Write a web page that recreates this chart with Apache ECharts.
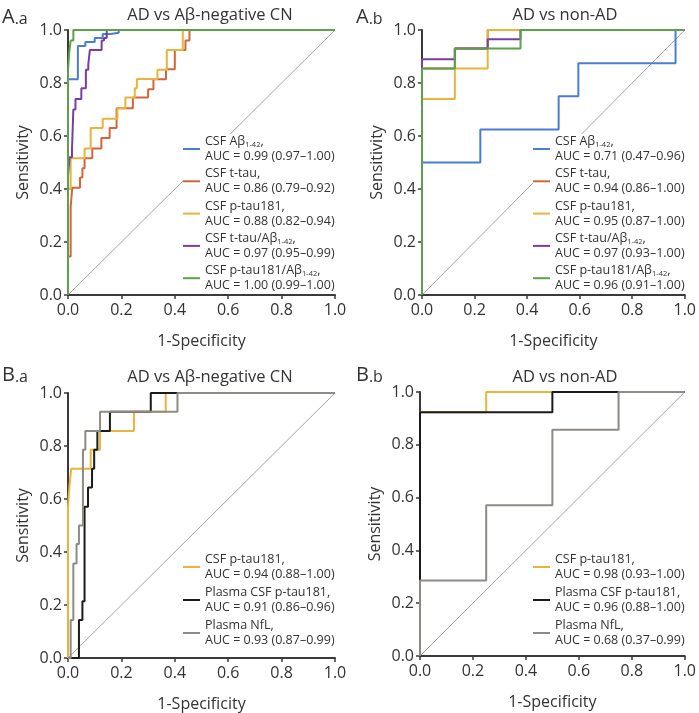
<!DOCTYPE html>
<html>
<head>
<meta charset="utf-8">
<script src="https://cdn.jsdelivr.net/npm/echarts@6/dist/echarts.min.js"></script>
<style>
html,body{margin:0;padding:0;background:#fff;}
#chart{width:699px;height:713px;}
</style>
</head>
<body>
<div id="chart"></div>
<script>
// ---------- Data (x = 1-Specificity, y = Sensitivity) ----------
const tickLabels = ['0.0', '0.2', '0.4', '0.6', '0.8', '1.0'];
const diagonal = [[0, 0], [1, 1]];

// Panel A.a : AD vs Aβ-negative CN
const aaAbeta = [[0,0],[0,0.814],[0.037,0.814],[0.037,0.94],[0.065,0.94],[0.065,0.955],[0.1,0.955],[0.1,0.97],[0.13,0.97],[0.13,0.985],[0.16,0.985],[0.16,0.99],[0.19,0.99],[0.19,1],[1,1]];
const aaTtau = [[0,0],[0,0.145],[0.01,0.145],[0.01,0.333],[0.016,0.333],[0.016,0.405],[0.045,0.405],[0.045,0.443],[0.054,0.443],[0.054,0.478],[0.062,0.478],[0.062,0.516],[0.091,0.516],[0.091,0.553],[0.125,0.553],[0.125,0.592],[0.156,0.592],[0.156,0.63],[0.182,0.63],[0.182,0.705],[0.243,0.705],[0.243,0.745],[0.30,0.745],[0.30,0.776],[0.32,0.776],[0.32,0.814],[0.367,0.814],[0.367,0.852],[0.40,0.852],[0.40,0.925],[0.44,0.925],[0.44,0.96],[0.455,0.96],[0.455,1],[1,1]];
const aaPtau = [[0,0],[0,0.40],[0.01,0.40],[0.01,0.516],[0.062,0.516],[0.062,0.553],[0.085,0.553],[0.085,0.63],[0.13,0.63],[0.13,0.665],[0.185,0.665],[0.185,0.705],[0.215,0.705],[0.215,0.745],[0.25,0.745],[0.25,0.78],[0.258,0.78],[0.258,0.815],[0.335,0.815],[0.335,0.85],[0.37,0.85],[0.37,0.925],[0.43,0.925],[0.43,1],[1,1]];
const aaTtauRatio = [[0,0],[0,0.45],[0.006,0.45],[0.006,0.52],[0.015,0.52],[0.015,0.55],[0.02,0.55],[0.02,0.70],[0.028,0.70],[0.028,0.74],[0.05,0.74],[0.05,0.78],[0.067,0.78],[0.067,0.85],[0.076,0.85],[0.076,0.87],[0.082,0.87],[0.082,0.925],[0.126,0.925],[0.126,0.96],[0.135,0.96],[0.135,0.97],[0.145,0.97],[0.145,1],[1,1]];
const aaPtauRatio = [[0,0],[0,0.85],[0.005,0.85],[0.005,0.92],[0.01,0.92],[0.01,0.96],[0.02,0.96],[0.02,1],[1,1]];

// Panel A.b : AD vs non-AD
const abAbeta = [[0,0],[0,0.5],[0.222,0.5],[0.222,0.625],[0.52,0.625],[0.52,0.75],[0.595,0.75],[0.595,0.875],[0.965,0.875],[0.965,1],[1,1]];
const abTtau = [[0,0],[0,0.855],[0.125,0.855],[0.125,0.93],[0.25,0.93],[0.25,1],[1,1]];
const abPtau = [[0,0],[0,0.74],[0.125,0.74],[0.125,0.855],[0.25,0.855],[0.25,1],[1,1]];
const abTtauRatio = [[0,0],[0,0.89],[0.125,0.89],[0.125,0.93],[0.25,0.93],[0.25,0.965],[0.375,0.965],[0.375,1],[1,1]];
const abPtauRatio = [[0,0],[0,0.855],[0.125,0.855],[0.125,0.93],[0.375,0.93],[0.375,1],[1,1]];

// Panel B.a : AD vs Aβ-negative CN
const baCsfPtau = [[0,0],[0,0.57],[0.005,0.57],[0.005,0.645],[0.012,0.645],[0.012,0.714],[0.085,0.714],[0.085,0.786],[0.12,0.786],[0.12,0.857],[0.247,0.857],[0.247,0.929],[0.366,0.929],[0.366,1],[1,1]];
const baPlasmaPtau = [[0,0],[0.041,0],[0.041,0.143],[0.054,0.143],[0.054,0.214],[0.062,0.214],[0.062,0.571],[0.075,0.571],[0.075,0.643],[0.09,0.643],[0.09,0.714],[0.098,0.714],[0.098,0.786],[0.11,0.786],[0.11,0.857],[0.157,0.857],[0.157,0.929],[0.31,0.929],[0.31,1],[1,1]];
const baNfl = [[0,0],[0.01,0],[0.01,0.143],[0.02,0.143],[0.02,0.357],[0.032,0.357],[0.032,0.43],[0.041,0.43],[0.041,0.5],[0.056,0.5],[0.056,0.786],[0.065,0.786],[0.065,0.857],[0.12,0.857],[0.12,0.929],[0.41,0.929],[0.41,1],[1,1]];

// Panel B.b : AD vs non-AD
const bbCsfPtau = [[0,0],[0,0.923],[0.25,0.923],[0.25,1],[1,1]];
const bbPlasmaPtau = [[0,0],[0,0.923],[0.5,0.923],[0.5,1],[1,1]];
const bbNfl = [[0,0],[0,0.286],[0.25,0.286],[0.25,0.571],[0.5,0.571],[0.5,0.857],[0.75,0.857],[0.75,1],[1,1]];

// Legend texts
const legendText = {
  aa1: ['CSF Aβ', '1-42', 'AUC = 0.99 (0.97–1.00)'],
  aa2: ['CSF t-tau,', null, 'AUC = 0.86 (0.79–0.92)'],
  aa3: ['CSF p-tau181,', null, 'AUC = 0.88 (0.82–0.94)'],
  aa4: ['CSF t-tau/Aβ', '1-42', 'AUC = 0.97 (0.95–0.99)'],
  aa5: ['CSF p-tau181/Aβ', '1-42', 'AUC = 1.00 (0.99–1.00)'],
  ab1: ['CSF Aβ', '1-42', 'AUC = 0.71 (0.47–0.96)'],
  ab2: ['CSF t-tau,', null, 'AUC = 0.94 (0.86–1.00)'],
  ab3: ['CSF p-tau181,', null, 'AUC = 0.95 (0.87–1.00)'],
  ab4: ['CSF t-tau/Aβ', '1-42', 'AUC = 0.97 (0.93–1.00)'],
  ab5: ['CSF p-tau181/Aβ', '1-42', 'AUC = 0.96 (0.91–1.00)'],
  ba1: ['CSF p-tau181,', null, 'AUC = 0.94 (0.88–1.00)'],
  ba2: ['Plasma CSF p-tau181,', null, 'AUC = 0.91 (0.86–0.96)'],
  ba3: ['Plasma NfL,', null, 'AUC = 0.93 (0.87–0.99)'],
  bb1: ['CSF p-tau181,', null, 'AUC = 0.98 (0.93–1.00)'],
  bb2: ['Plasma CSF p-tau181,', null, 'AUC = 0.96 (0.88–1.00)'],
  bb3: ['Plasma NfL,', null, 'AUC = 0.68 (0.37–0.99)']
};

// ---------- Styling ----------
const FONT = 'Open Sans';
const C = {
  blue: '#4a7dd3', orange: '#d2663b', yellow: '#e8b43c', purple: '#7a3da6',
  green: '#5ca249', black: '#1b1b1b', gray: '#8e8a85', axis: '#3a3a3a', text: '#333333'
};

const grids = [
  {left: 68, top: 30, width: 267, height: 265},
  {left: 422, top: 30, width: 266, height: 265},
  {left: 68, top: 393, width: 267, height: 266},
  {left: 420, top: 392, width: 266, height: 264}
];

function axisBase(i) {
  return {
    gridIndex: i, type: 'value', min: 0, max: 1, interval: 0.2,
    axisLine: {show: true, lineStyle: {color: C.axis, width: 2}},
    axisTick: {show: true, length: 4, lineStyle: {color: C.axis, width: 1.5}},
    axisLabel: {formatter: v => tickLabels[Math.round(v * 5)], fontSize: 16, color: C.text, fontFamily: FONT},
    splitLine: {show: false},
    nameLocation: 'middle',
    nameTextStyle: {fontSize: 16, color: C.text, fontFamily: FONT}
  };
}
const xAxes = [0,1,2,3].map(i => Object.assign(axisBase(i), {name: '1-Specificity', nameGap: 38,
  axisLabel: Object.assign(axisBase(i).axisLabel, {margin: 7})}));
const yAxes = [0,1,2,3].map(i => Object.assign(axisBase(i), {name: 'Sensitivity', nameGap: 37,
  axisLabel: Object.assign(axisBase(i).axisLabel, {margin: 6})}));

const series = [];
function addDiag(i) {
  series.push({type: 'line', xAxisIndex: i, yAxisIndex: i, data: diagonal, symbol: 'none', silent: true,
    lineStyle: {color: '#8a8a8a', width: 0.8}, z: 1, animation: false});
}
function addCurve(i, key, data, color) {
  series.push({type: 'line', name: key, xAxisIndex: i, yAxisIndex: i, data: data, symbol: 'none',
    clip: false, animation: false, color: color,
    lineStyle: {color: color, width: 2}, itemStyle: {color: color}});
}
[0,1,2,3].forEach(addDiag);
addCurve(0, 'aa1', aaAbeta, C.blue);
addCurve(0, 'aa2', aaTtau, C.orange);
addCurve(0, 'aa3', aaPtau, C.yellow);
addCurve(0, 'aa4', aaTtauRatio, C.purple);
addCurve(0, 'aa5', aaPtauRatio, C.green);
addCurve(1, 'ab1', abAbeta, C.blue);
addCurve(1, 'ab2', abTtau, C.orange);
addCurve(1, 'ab3', abPtau, C.yellow);
addCurve(1, 'ab4', abTtauRatio, C.purple);
addCurve(1, 'ab5', abPtauRatio, C.green);
addCurve(2, 'ba1', baCsfPtau, C.yellow);
addCurve(2, 'ba2', baPlasmaPtau, C.black);
addCurve(2, 'ba3', baNfl, C.gray);
addCurve(3, 'bb1', bbCsfPtau, C.yellow);
addCurve(3, 'bb2', bbPlasmaPtau, C.black);
addCurve(3, 'bb3', bbNfl, C.gray);

function legendFmt(name) {
  const t = legendText[name];
  let first = '{t|' + t[0] + '}';
  if (t[1]) first += '{s|' + t[1] + '}{t|,}';
  return first + '\n{t|' + t[2] + '}';
}
function makeLegend(keys, left, top, gap) {
  return {
    data: keys, left: left, top: top, orient: 'vertical', padding: 0, itemGap: gap,
    backgroundColor: '#ffffff', z: 5,
    icon: 'rect', itemWidth: 17, itemHeight: 2, selectedMode: false, formatter: legendFmt,
    textStyle: {fontFamily: FONT, fontSize: 12.5, color: C.text, lineHeight: 15,
      rich: {
        t: {fontFamily: FONT, fontSize: 12.5, color: C.text, lineHeight: 15},
        s: {fontFamily: FONT, fontSize: 7.5, color: C.text, lineHeight: 9, verticalAlign: 'bottom'}
      }}
  };
}

const titleStyle = {font: '16.5px "Open Sans"', fill: C.text, align: 'center', verticalAlign: 'middle'};
function panelLabel(x, y, big, small) {
  return {type: 'text', x: x, y: y, style: {
    text: '{a|' + big + '}{b|' + small + '}', verticalAlign: 'middle', fill: C.text,
    rich: {a: {fontFamily: FONT, fontSize: 20, fill: C.text, verticalAlign: 'bottom', lineHeight: 24},
           b: {fontFamily: FONT, fontSize: 16, fill: C.text, verticalAlign: 'bottom', lineHeight: 21}}
  }};
}

const option = {
  backgroundColor: '#ffffff',
  animation: false,
  textStyle: {fontFamily: FONT},
  grid: grids,
  xAxis: xAxes,
  yAxis: yAxes,
  series: series,
  legend: [
    makeLegend(['aa1','aa2','aa3','aa4','aa5'], 183, 134, 2.3),
    makeLegend(['ab1','ab2','ab3','ab4','ab5'], 533, 134, 2.3),
    makeLegend(['ba1','ba2','ba3'], 183, 552, 3),
    makeLegend(['bb1','bb2','bb3'], 533, 552, 3)
  ],
  graphic: [
    {type: 'text', x: 210, y: 15, style: Object.assign({text: 'AD vs Aβ-negative CN'}, titleStyle)},
    {type: 'text', x: 565, y: 15, style: Object.assign({text: 'AD vs non-AD'}, titleStyle)},
    {type: 'text', x: 210, y: 377, style: Object.assign({text: 'AD vs Aβ-negative CN'}, titleStyle)},
    {type: 'text', x: 565, y: 377, style: Object.assign({text: 'AD vs non-AD'}, titleStyle)},
    panelLabel(2, 15, 'A', '.a'),
    panelLabel(356, 15, 'A', '.b'),
    panelLabel(2, 373, 'B', '.a'),
    panelLabel(356, 373, 'B', '.b')
  ]
};

const chart = echarts.init(document.getElementById('chart'), null, {renderer: 'canvas'});
chart.setOption(option);
</script>
</body>
</html>
